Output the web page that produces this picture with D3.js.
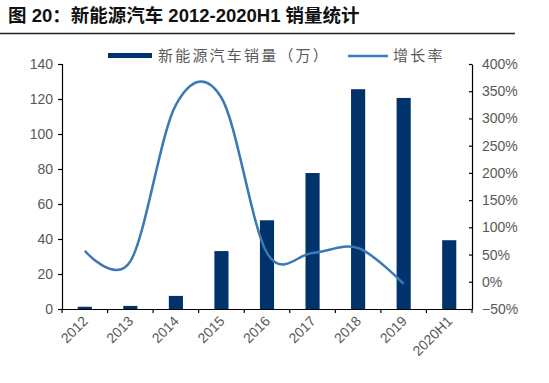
<!DOCTYPE html>
<html><head><meta charset="utf-8">
<script src="https://cdn.jsdelivr.net/npm/d3@7"></script>
<style>body{margin:0;background:#fff}svg{display:block}</style>
</head><body>
<script>
const categories = ["2012","2013","2014","2015","2016","2017","2018","2019","2020H1"];
const sales = [1.28, 1.76, 7.48, 33.1, 50.7, 77.7, 125.6, 120.6, 39.3];
const growth = [0.57, 0.375, 3.25, 3.38, 0.53, 0.53, 0.62, -0.04];
const leftTicks = [0,20,40,60,80,100,120,140];
const rightTicks = [-0.5,0,0.5,1,1.5,2,2.5,3,3.5,4];

const W=549,H=383;
const svg=d3.select("body").append("svg").attr("width",W).attr("height",H);
const font='"Liberation Sans", Arial, "Noto Sans CJK SC", sans-serif';
const grey="#595959";
const barColor="#00336b", lineColor="#3b78b6";

svg.append("text").attr("x",8).attr("y",22)
  .attr("font-family",font).attr("font-weight","bold").attr("font-size",18.5).attr("fill","#111")
  .text("图 20：新能源汽车 2012-2020H1 销量统计");
svg.append("line").attr("x1",0).attr("x2",515).attr("y1",33.5).attr("y2",33.5)
  .attr("stroke","#222").attr("stroke-width",1.5);

const x=d3.scaleBand().domain(categories).range([62,472]).paddingInner(0.69).paddingOuter(0.345);
const xb=d3.scaleBand().domain(categories).range([62,472]);
const yL=d3.scaleLinear().domain([0,140]).range([309,64]);
const yR=d3.scaleLinear().domain([-0.5,4]).range([309,64]);

svg.append("g").selectAll("rect").data(sales).join("rect")
  .attr("x",(d,i)=>x(categories[i])).attr("width",x.bandwidth())
  .attr("y",d=>yL(d)).attr("height",d=>yL(0)-yL(d)).attr("fill",barColor);

const line=d3.line().x((d,i)=>xb(categories[i])+xb.bandwidth()/2).y(d=>yR(d)).curve(d3.curveCardinal.tension(0));
svg.append("path").attr("d",line(growth)).attr("fill","none").attr("stroke",lineColor).attr("stroke-width",2.5);

function styleAxis(g){
  g.selectAll(".domain").attr("stroke","#000").attr("stroke-width",1.2);
  g.selectAll(".tick line").attr("stroke","#000").attr("stroke-width",1.2);
  g.selectAll("text").attr("font-family",font).attr("font-size",14).attr("fill",grey);
}
const gl=svg.append("g").attr("transform","translate(62,0)")
  .call(d3.axisLeft(yL).tickValues(leftTicks).tickSizeOuter(0).tickSize(4).tickPadding(5));
styleAxis(gl);
const gr=svg.append("g").attr("transform","translate(472,0)")
  .call(d3.axisRight(yR).tickValues(rightTicks).tickFormat(d3.format(".0%")).tickSizeOuter(0).tickSizeInner(-3).tickPadding(10));
styleAxis(gr);
const gb=svg.append("g").attr("transform","translate(0,309)")
  .call(d3.axisBottom(xb).tickSize(0).tickSizeOuter(0).tickFormat(""));
styleAxis(gb);
gb.selectAll(".tickb").data(categories.concat(["end"])).join("line")
  .attr("x1",(d,i)=>62+i*xb.step()).attr("x2",(d,i)=>62+i*xb.step())
  .attr("y1",0).attr("y2",4).attr("stroke","#000").attr("stroke-width",1.2);
gb.selectAll(".lab").data(categories).join("text")
  .attr("transform",d=>`translate(${xb(d)+xb.bandwidth()/2+4},13) rotate(-45)`)
  .attr("text-anchor","end").attr("font-family",font).attr("font-size",14).attr("fill",grey)
  .text(d=>d);

// legend
const lg=svg.append("g");
lg.append("rect").attr("x",108).attr("y",53).attr("width",44).attr("height",5).attr("fill",barColor);
lg.append("text").attr("x",158).attr("y",61).attr("font-family",font).attr("font-size",15).attr("letter-spacing",2.2).attr("fill",grey).text("新能源汽车销量（万）");
lg.append("line").attr("x1",348).attr("x2",388).attr("y1",56).attr("y2",56).attr("stroke",lineColor).attr("stroke-width",2.5);
lg.append("text").attr("x",393).attr("y",61).attr("font-family",font).attr("font-size",15).attr("letter-spacing",2.2).attr("fill",grey).text("增长率");
</script>
</body></html>
